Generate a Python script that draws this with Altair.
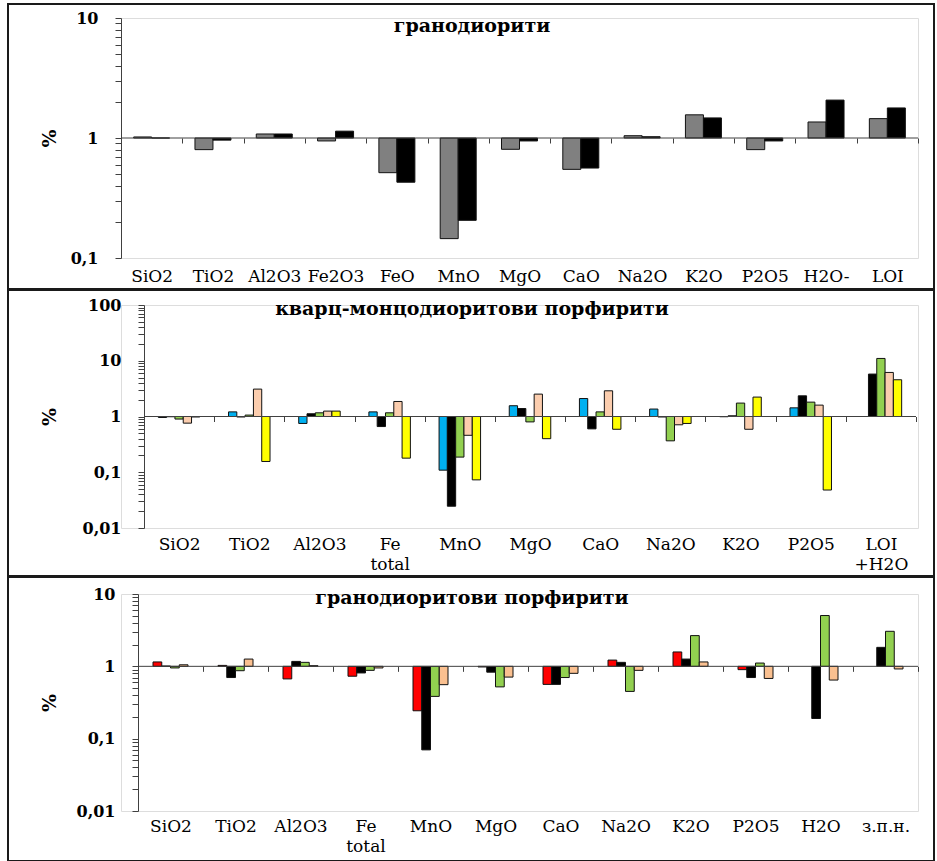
import math

import altair as alt
import pandas as pd

# ---- panel 1: гранодиорити ----
cats1 = ["SiO2", "TiO2", "Al2O3", "Fe2O3", "FeO", "MnO", "MgO", "CaO",
         "Na2O", "K2O", "P2O5", "H2O-", "LOI"]
p1_gray = [1.02, 0.80, 1.08, 0.945, 0.514, 0.145, 0.805, 0.548, 1.045, 1.56, 0.80, 1.36, 1.45]
p1_black = [1.0, 0.96, 1.08, 1.14, 0.428, 0.206, 0.945, 0.562, 1.025, 1.47, 0.945, 2.07, 1.78]

# ---- panel 2: кварц-монцодиоритови порфирити ----
cats2 = ["SiO2", "TiO2", "Al2O3", "Fe total", "MnO", "MgO", "CaO",
         "Na2O", "K2O", "P2O5", "LOI +H2O"]
p2_blue = [0.96, 1.21, 0.75, 1.21, 0.109, 1.56, 2.10, 1.36, 0.99, 1.43, None]
p2_black = [0.99, 0.98, 1.12, 0.66, 0.0246, 1.39, 0.60, 0.98, 1.03, 2.35, 5.77]
p2_green = [0.90, 1.06, 1.165, 1.165, 0.187, 0.80, 1.21, 0.366, 1.74, 1.81, 11.0]
p2_peach = [0.76, 3.1, 1.25, 1.86, 0.46, 2.52, 2.89, 0.71, 0.59, 1.60, 6.17]
p2_yellow = [0.98, 0.156, 1.25, 0.179, 0.073, 0.40, 0.59, 0.75, 2.23, 0.048, 4.56]

# ---- panel 3: гранодиоритови порфирити ----
cats3 = ["SiO2", "TiO2", "Al2O3", "Fe total", "MnO", "MgO", "CaO",
         "Na2O", "K2O", "P2O5", "H2O", "з.п.н."]
p3_red = [1.15, 1.03, 0.67, 0.73, 0.243, 0.98, 0.563, 1.22, 1.58, 0.90, None, None]
p3_black = [1.01, 0.70, 1.17, 0.81, 0.070, 0.83, 0.563, 1.135, 1.26, 0.70, 0.19, 1.83]
p3_green = [0.95, 0.87, 1.135, 0.88, 0.384, 0.52, 0.70, 0.45, 2.66, 1.11, 5.04, 3.05]
p3_peach = [1.05, 1.26, 1.02, 0.95, 0.558, 0.71, 0.80, 0.88, 1.15, 0.68, 0.646, 0.92]

SERIF = "DejaVu Serif"
LOG_TICKS = [m * 10.0 ** e for e in range(-2, 3) for m in range(1, 10)] + [100.0]
PLOT_W = 797
BORDER_X = (-113, 813)


def long_table(cats, series, colors, slot):
    """One row per bar; lo/hi place the bar inside its category (in category units)."""
    rows = []
    k = len(series)
    for s, ((name, vals), col) in enumerate(zip(series, colors)):
        for i, (c, v) in enumerate(zip(cats, vals)):
            if v is None:
                continue
            lo = i - k * slot / 2 + s * slot
            rows.append({"cat": c, "ser": name, "val": v, "fill": col,
                         "lo": lo, "hi": lo + slot})
    return pd.DataFrame(rows)


def panel(cats, series, colors, domain, H, x_span, bar_w, title, title_y,
          border_y, label_padding, ytitle_x):
    n = len(cats)
    lo_v, hi_v = domain
    ticks = [t for t in LOG_TICKS if lo_v * 0.999 <= t <= hi_v * 1.001]
    # the category axis sits on the 1 % line
    frac_one = math.log10(hi_v) / (math.log10(hi_v) - math.log10(lo_v))
    axis_offset = -(H - frac_one * H)
    # categories fill [x0, x1] of the plot width; the rest is outer padding
    x0, x1 = x_span
    step = (x1 - x0) / n
    spare = PLOT_W - (x1 - x0)
    x_pad = spare / step / 2
    x_align = x0 / spare if spare > 0 else 0.5
    df = long_table(cats, series, colors, bar_w / step)
    x_domain = [-0.5 - x0 / step, n - 0.5 + (PLOT_W - x1) / step]

    # category axis (ticks between categories, labels below the plot)
    cat_axis = alt.Chart(pd.DataFrame({"cat": cats})).mark_bar(opacity=0).encode(
        x=alt.X("cat:N", sort=cats,
                scale=alt.Scale(type="band", paddingInner=0, paddingOuter=x_pad,
                                align=x_align),
                axis=alt.Axis(title=None, offset=axis_offset, tickBand="extent",
                              domain=False, tickSize=5, tickColor="#404040",
                              labelPadding=label_padding, labelAngle=0,
                              labelExpr="split(datum.label, ' ')",
                              labelFont=SERIF, labelFontSize=17, labelColor="black",
                              labelLineHeight=20, labelOverlap=False, zindex=1)),
    )

    bars = alt.Chart(df).mark_bar(stroke="#111111", strokeWidth=1).encode(
        x=alt.X("lo:Q", scale=alt.Scale(domain=x_domain, nice=False, zero=False),
                axis=None),
        x2="hi:Q",
        y=alt.Y("val:Q",
                scale=alt.Scale(type="log", domain=[lo_v, hi_v]),
                axis=alt.Axis(values=ticks, grid=False, tickSize=6, tickColor="#404040",
                              domainColor="#404040", labelPadding=17, offset=-x0,
                              labelExpr="abs(log(datum.value)/LN10 - round(log(datum.value)/LN10)) < 0.000001 ? replace(datum.label, '.', ',') : ''",
                              format="~g", labelFont=SERIF, labelFontSize=16,
                              labelFontWeight="bold", labelColor="black",
                              title="%", titleFont=SERIF, titleFontSize=19,
                              titleFontWeight="bold", titleColor="black",
                              titleX=ytitle_x, titleY=H / 2, titleAngle=-90,
                              titleAlign="center", titleBaseline="middle")),
        y2=alt.datum(1),
        color=alt.Color("fill:N", scale=None, legend=None),
    )

    # category axis line drawn along the 1 % level
    base = alt.Chart(pd.DataFrame({"k": [0]})).mark_rule(
        color="#404040", strokeWidth=1
    ).encode(x=alt.value(x0), x2=alt.value(x1), y=alt.datum(1))

    head = alt.Chart(pd.DataFrame({"t": [title]})).mark_text(
        font=SERIF, fontSize=19, fontWeight="bold", color="black",
        align="center", baseline="middle"
    ).encode(text="t:N", x=alt.value(351), y=alt.value(title_y))

    by0, by1 = border_y
    frame = alt.Chart(pd.DataFrame({"k": [0]})).mark_rect(
        fillOpacity=0, stroke="#1a1a1a", strokeWidth=2
    ).encode(x=alt.value(BORDER_X[0]), x2=alt.value(BORDER_X[1]),
             y=alt.value(by0), y2=alt.value(by1))

    return alt.layer(frame, cat_axis, bars, base, head).resolve_scale(
        x="independent"
    ).properties(width=PLOT_W, height=H)


p1 = panel(cats1, [("g1", p1_gray), ("g2", p1_black)], ["#808080", "#000000"],
           (0.1, 10), 240, (0, 797), 18, "гранодиорити", 8,
           (-14, 271), 125, -72)

p2 = panel(cats2, [("k1", p2_blue), ("k2", p2_black), ("k3", p2_green),
                   ("k4", p2_peach), ("k5", p2_yellow)],
           ["#00B0F0", "#000000", "#92D050", "#FBCDAE", "#FFFF00"],
           (0.01, 100), 223, (23, 795), 8.3, "кварц-монцодиоритови  порфирити", 4,
           (-15, 271), 115, -95)

p3 = panel(cats3, [("p1", p3_red), ("p2", p3_black), ("p3", p3_green), ("p4", p3_peach)],
           ["#FF0000", "#000000", "#92D050", "#FAC090"],
           (0.01, 10), 217, (17, 797), 8.75, "гранодиоритови  порфирити", 4,
           (-17, 267), 147, -89)

chart = alt.concat(p1, p2, p3, columns=1, spacing=-3).properties(
    padding={"left": 6, "top": 2, "right": 0, "bottom": 0}
).configure_view(stroke="transparent").configure(background="white")

chart.save("out.html", embed_options={"renderer": "svg", "actions": False})
